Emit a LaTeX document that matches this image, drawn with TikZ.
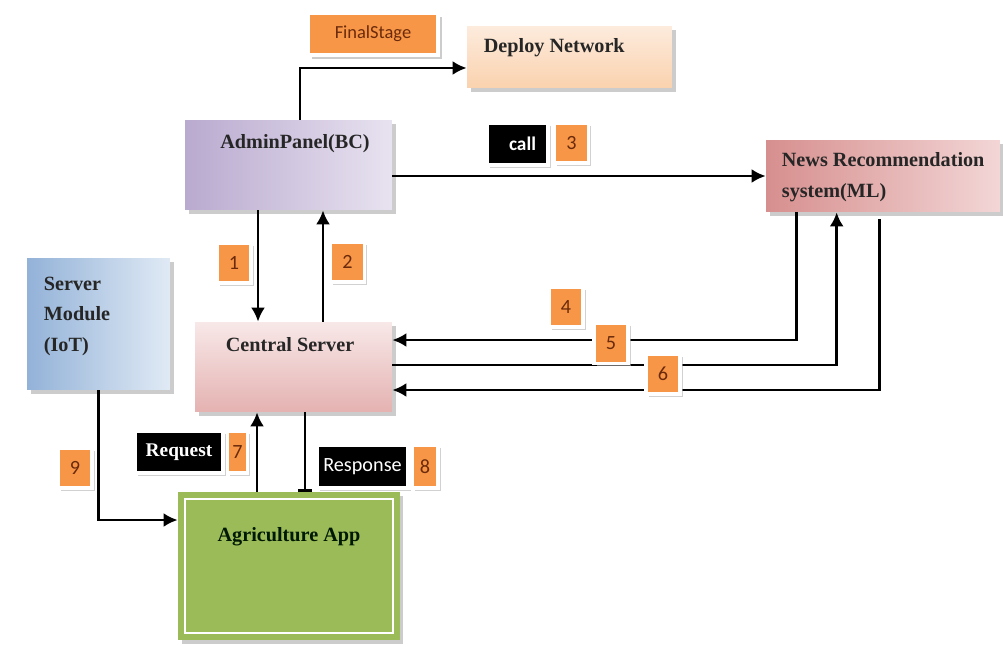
\documentclass[tikz,border=0pt]{standalone}
\usepackage{fontspec}
\setmainfont{Liberation Serif}
\newfontfamily\calibri{Carlito}
\usetikzlibrary{shadows, arrows.meta}

\definecolor{taborange}{HTML}{F79646}
\definecolor{numbrown}{HTML}{6B2A0C}
\definecolor{lavdark}{HTML}{B9AACF}
\definecolor{lavlight}{HTML}{E8E2F0}
\definecolor{pinkdark}{HTML}{E4B2B1}
\definecolor{pinklight}{HTML}{F8E8E8}
\definecolor{newsdark}{HTML}{D68F8E}
\definecolor{newslight}{HTML}{F3D6D6}
\definecolor{bluedark}{HTML}{93B2D8}
\definecolor{bluelight}{HTML}{E0EAF5}
\definecolor{peachdark}{HTML}{FAD2AE}
\definecolor{peachlight}{HTML}{FDEBDD}
\definecolor{appgreen}{HTML}{9BBB59}

\begin{document}
\begin{tikzpicture}[x=0.02cm, y=-0.02cm,
		box/.style   = {rectangle, inner sep=0pt, drop shadow={shadow xshift=2pt, shadow yshift=-2pt, fill=black!40, opacity=.5}},
		title/.style = {font=\fontsize{11.5}{17.5}\selectfont\bfseries, text=black!85, align=left},
		tag/.style   = {rectangle, fill=taborange, minimum width=0.68cm, minimum height=0.8cm, inner sep=0pt, draw=white, line width=2pt,
			drop shadow={shadow xshift=1.5pt, shadow yshift=-1.5pt, fill=black!30, opacity=.6},
			font=\calibri\fontsize{11.5}{13}\selectfont, text=numbrown},
		darktag/.style = {tag, fill=black, text=white},
		link/.style  = {->, line width=1.6pt},
		>={Latex[length=8pt,width=8pt]}]
	
	\useasboundingbox (0,0) rectangle (1003,662);
	
	% main blocks
	\node[box, minimum width=2.6cm, minimum height=0.84cm, fill=taborange, draw=white, line width=2pt,
		font=\calibri\fontsize{10.5}{12}\selectfont, text=numbrown] (final) at (373,34) {FinalStage};
	\node[box, minimum width=4.1cm, minimum height=1.24cm, top color=peachlight, bottom color=peachdark,
		label={[title, anchor=north west, xshift=0.22cm, yshift=-0.14cm]north west:Deploy Network}] (deploy) at (569.5,57) {};
	\node[box, minimum width=4.14cm, minimum height=1.8cm, left color=lavdark, right color=lavlight,
		label={[title, xshift=0.13cm, yshift=0.42cm]center:AdminPanel(BC)}] (admin) at (288.5,165) {};
	\node[box, minimum width=4.68cm, minimum height=1.44cm, left color=newsdark, right color=newslight,
		label={[title, anchor=north west, xshift=0.2cm, yshift=-0.13cm]north west:News Recommendation\\system(ML)}] (news) at (883,176) {};
	\node[box, minimum width=3.94cm, minimum height=1.8cm, top color=pinklight, bottom color=pinkdark,
		label={[title, xshift=-0.07cm, yshift=0.44cm]center:Central Server}] (central) at (293.5,367) {};
	\node[box, minimum width=2.86cm, minimum height=2.64cm, left color=bluedark, right color=bluelight,
		label={[title, anchor=north west, xshift=0.22cm, yshift=-0.26cm]north west:Server\\Module\\(IoT)}] (server) at (98.5,324) {};
	\node[box, minimum width=4.44cm, minimum height=2.96cm, fill=appgreen,
		label={[title, text=black!90!green, yshift=0.58cm]center:Agriculture App}] (app) at (289,566) {};
	\draw[white, line width=1.5pt] ([shift={(0.15cm,-0.15cm)}]app.north west) rectangle ([shift={(-0.15cm,0.15cm)}]app.south east);
	
	% connectors
	\draw[link] ([xshift=0.23cm]admin.north) |- ([yshift=-0.22cm]deploy.west);
	\draw[link] (admin.east |- news.west) -- (news.west);
	
	\coordinate (a1) at ([xshift=-0.61cm]admin.south);
	\coordinate (a2) at ([xshift=0.59cm]central.north);
	\draw[link] (a1) -- (a1 |- central.north);
	\draw[link] (a2) -- (a2 |- admin.south);
	
	\draw[link] ([xshift=0.62cm]news.south west) |- ([yshift=0.54cm]central.east);
	\draw[link] ([yshift=0.04cm]central.east) -| ([xshift=1.42cm]news.south west);
	\draw[link] ([xshift=2.28cm,yshift=-0.14cm]news.south west) |- ([yshift=-0.46cm]central.east);
	
	\coordinate (a7) at ([xshift=-0.64cm]app.north);
	\coordinate (a8) at ([xshift=0.23cm]central.south);
	\draw[link] (a7) -- (a7 |- central.south);
	\draw[-{Bar[width=8pt]}, line width=1.6pt] (a8) -- (a8 |- app.north);
	
	\draw[link] (server.south) |- ([yshift=0.92cm]app.west);
	
	% step tags
	\foreach \num/\pos in {1/{234,263}, 2/{347.5,262}, 3/{571.5,143}, 4/{566,307}, 5/{611,343.5}, 6/{663,374}, 9/{75,468}}
	\node[tag] (t\num) at (\pos) {\num};
	
	\node[darktag, minimum width=1.22cm, minimum height=0.84cm, font=\calibri\bfseries\fontsize{11}{13}\selectfont] (call) at (517.5,144) {\hspace{0.2cm}call};
	\node[darktag, minimum width=1.76cm, minimum height=0.84cm, font=\bfseries\fontsize{11}{13}\selectfont] (request) at (179,452) {Request};
	\node[tag, minimum width=0.4cm, minimum height=0.84cm] (t7) at (237.5,452) {7};
	\node[darktag, minimum width=1.82cm, minimum height=0.86cm] (response) at (362.5,466.5) {Response};
	\node[tag, minimum width=0.52cm, minimum height=0.86cm] (t8) at (425,466.5) {8};
\end{tikzpicture}
\end{document}
